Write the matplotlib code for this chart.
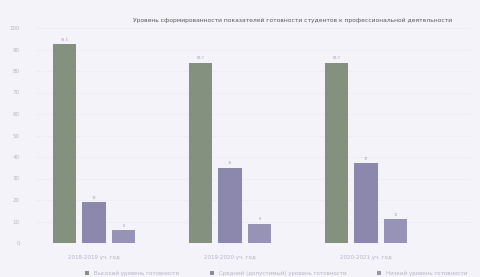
import matplotlib.pyplot as plt
import numpy as np

# Data (percent)
categories = ["2018-2019 уч. год", "2019-2020 уч. год", "2020-2021 уч. год"]
series_names = ["Высокий уровень готовности",
                "Средний (допустимый) уровень готовности",
                "Низкий уровень готовности"]
high = [92.5, 83.7, 83.7]
middle = [19.0, 35.0, 37.0]
low = [6.0, 9.0, 11.0]
yticks = [0, 10, 20, 30, 40, 50, 60, 70, 80, 90, 100]

title = "Уровень сформированности показателей готовности студентов к профессиональной деятельности"

colors = ["#84917f", "#8c87ad", "#9693b6"]
bg = "#f5f3fa"

fig = plt.figure(figsize=(4.8, 2.77), dpi=100, facecolor=bg)
ax = fig.add_axes([35 / 480, 34 / 277, 435 / 480, 215 / 277], facecolor=bg)

x = np.arange(len(categories))
width = 0.173
step = 0.217
for i, (vals, name) in enumerate(zip([high, middle, low], series_names)):
    bars = ax.bar(x + (i - 1) * step, vals, width, color=colors[i], label=name, zorder=2)
    for b, v in zip(bars, vals):
        ax.text(b.get_x() + b.get_width() / 2, v + 1.2, f"{v:g}", ha="center", va="bottom",
                fontsize=2.5, color="#a0a0b0")

ax.set_ylim(0, 100)
ax.set_xlim(-59 / 136, 376 / 136)
ax.set_yticks(yticks)
ax.set_xticks(x)
ax.set_xticklabels(categories)
ax.tick_params(axis="both", length=0, labelsize=4, colors="#b4b4c4", pad=11)
ax.tick_params(axis="x", pad=9)
ax.grid(axis="y", color="#eceaf2", linewidth=0.5, zorder=0)
for s in ax.spines.values():
    s.set_visible(False)

fig.text(0.61, 0.925, title, ha="center", va="center", fontsize=4.3, color="#55555f")

fig.legend(loc="lower center", bbox_to_anchor=(0.575, -0.015), ncol=3, frameon=False,
           fontsize=4, labelcolor="#b4b4c4", handlelength=0.8, handleheight=0.6,
           columnspacing=5.5)

fig.savefig("out.png", dpi=100, facecolor=bg)
